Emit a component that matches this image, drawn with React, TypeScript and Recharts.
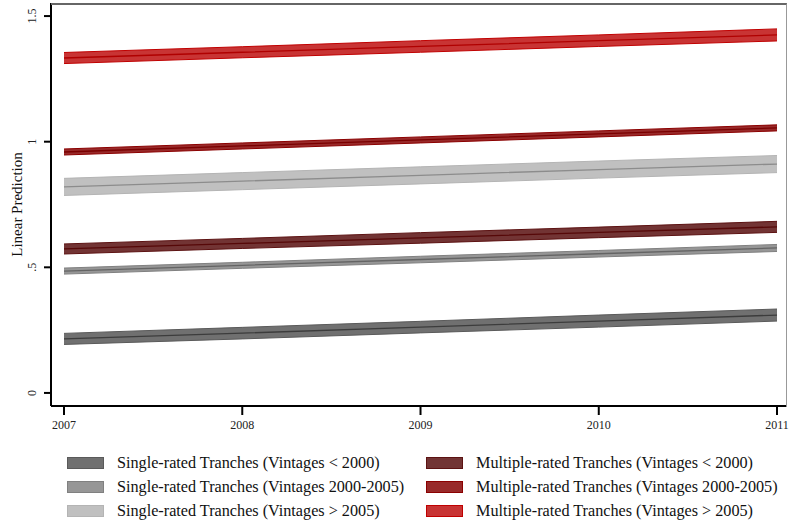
import {
  ComposedChart,
  Area,
  Line,
  XAxis,
  YAxis,
} from "recharts";

// x positions (years)
const years = [2007, 2008, 2009, 2010, 2011];
const xTicks = [2007, 2008, 2009, 2010, 2011];
const yTicks = [0, 0.5, 1, 1.5];

// single-rated tranches
const singleOldFit = [0.215, 0.238, 0.262, 0.286, 0.31];
const singleOldLo = [0.193, 0.215, 0.239, 0.262, 0.286];
const singleOldHi = [0.237, 0.261, 0.285, 0.31, 0.334];

const singleMidFit = [0.485, 0.508, 0.531, 0.554, 0.577];
const singleMidLo = [0.473, 0.496, 0.518, 0.541, 0.563];
const singleMidHi = [0.497, 0.52, 0.544, 0.567, 0.591];

const singleNewFit = [0.82, 0.843, 0.866, 0.889, 0.911];
const singleNewLo = [0.786, 0.809, 0.832, 0.855, 0.877];
const singleNewHi = [0.854, 0.877, 0.9, 0.923, 0.945];

// multiple-rated tranches
const multiOldFit = [0.573, 0.595, 0.617, 0.639, 0.661];
const multiOldLo = [0.553, 0.575, 0.596, 0.618, 0.639];
const multiOldHi = [0.593, 0.615, 0.638, 0.66, 0.683];

const multiMidFit = [0.959, 0.983, 1.007, 1.031, 1.055];
const multiMidLo = [0.947, 0.971, 0.995, 1.019, 1.043];
const multiMidHi = [0.971, 0.995, 1.019, 1.043, 1.067];

const multiNewFit = [1.333, 1.356, 1.379, 1.402, 1.425];
const multiNewLo = [1.311, 1.334, 1.356, 1.379, 1.401];
const multiNewHi = [1.355, 1.378, 1.402, 1.425, 1.449];

type SeriesDef = {
  key: string;
  name: string;
  fit: number[];
  lo: number[];
  hi: number[];
  fill: string;
  edge: string;
  line: string;
};

const SERIES: SeriesDef[] = [
  { key: "s1", name: "Single-rated Tranches (Vintages < 2000)", fit: singleOldFit, lo: singleOldLo, hi: singleOldHi, fill: "#707070", edge: "#5a5a5a", line: "#3c3c3c" },
  { key: "s2", name: "Single-rated Tranches (Vintages 2000-2005)", fit: singleMidFit, lo: singleMidLo, hi: singleMidHi, fill: "#969696", edge: "#808080", line: "#646464" },
  { key: "s3", name: "Single-rated Tranches (Vintages > 2005)", fit: singleNewFit, lo: singleNewLo, hi: singleNewHi, fill: "#c0c0c0", edge: "#b4b4b4", line: "#8c8c8c" },
  { key: "m1", name: "Multiple-rated Tranches (Vintages < 2000)", fit: multiOldFit, lo: multiOldLo, hi: multiOldHi, fill: "#723434", edge: "#5c1212", line: "#560808" },
  { key: "m2", name: "Multiple-rated Tranches (Vintages 2000-2005)", fit: multiMidFit, lo: multiMidLo, hi: multiMidHi, fill: "#982a2a", edge: "#8b0000", line: "#7a0000" },
  { key: "m3", name: "Multiple-rated Tranches (Vintages > 2005)", fit: multiNewFit, lo: multiNewLo, hi: multiNewHi, fill: "#c83434", edge: "#c00000", line: "#b00000" },
];

const FONT = "'Liberation Serif', 'DejaVu Serif', serif";

function fmtY(v: number): string {
  if (v === 0) return "0";
  if (v === 0.5) return ".5";
  return String(v);
}

function YTick(props: any) {
  const { y, payload } = props;
  const x = 32;
  return (
    <text
      x={x}
      y={y}
      transform={`rotate(-90, ${x}, ${y})`}
      textAnchor="middle"
      dominantBaseline="central"
      fontSize={12}
      fontFamily={FONT}
      fill="#222"
    >
      {fmtY(payload.value)}
    </text>
  );
}

function XTick(props: any) {
  const { x, payload } = props;
  return (
    <text x={x} y={429} textAnchor="middle" fontSize={12} fontFamily={FONT} fill="#222">
      {payload.value}
    </text>
  );
}

function YLabel(props: any) {
  const vb = props.viewBox ?? { x: 0, y: 3, height: 403 };
  const x = vb.x + 17;
  const y = vb.y + vb.height / 2;
  return (
    <text
      x={x}
      y={y}
      transform={`rotate(-90, ${x}, ${y})`}
      textAnchor="middle"
      dominantBaseline="central"
      fontSize={15}
      fontFamily={FONT}
      fill="#111"
    >
      Linear Prediction
    </text>
  );
}

function LegendBox() {
  const cols = [SERIES.slice(0, 3), SERIES.slice(3, 6)];
  const colX = [67, 426];
  return (
    <>
      {cols.map((col, ci) =>
        col.map((s, ri) => (
          <div
            key={s.key}
            style={{
              position: "absolute",
              left: colX[ci],
              top: 454 + ri * 24,
              height: 18,
              lineHeight: "18px",
              display: "flex",
              alignItems: "center",
              fontFamily: FONT,
              fontSize: 16.2,
              color: "#111",
              whiteSpace: "nowrap",
            }}
          >
            <span
              style={{
                display: "inline-block",
                width: 35,
                height: 10,
                background: s.fill,
                border: `1px solid ${s.edge}`,
                marginRight: 13,
              }}
            />
            {s.name}
          </div>
        ))
      )}
    </>
  );
}

export default function App() {
  const data = years.map((yr, i) => {
    const row: Record<string, number | number[]> = { year: yr };
    SERIES.forEach((s) => {
      row[`${s.key}_band`] = [s.lo[i], s.hi[i]];
      row[`${s.key}_fit`] = s.fit[i];
    });
    return row;
  });

  return (
    <div style={{ position: "absolute", left: 0, top: 0, width: 789, height: 526, background: "#fff" }}>
      <ComposedChart
        width={789}
        height={526}
        data={data}
        margin={{ top: 3, right: 2, bottom: 0, left: 0 }}
      >
        <XAxis
          dataKey="year"
          type="number"
          domain={[2006.927, 2011.056]}
          ticks={xTicks}
          allowDataOverflow
          height={120}
          axisLine={{ stroke: "#000", strokeWidth: 2 }}
          tickLine={{ stroke: "#000", strokeWidth: 2 }}
          tickSize={9}
          tick={<XTick />}
          interval={0}
        />
        <YAxis
          type="number"
          domain={[-0.052, 1.552]}
          ticks={yTicks}
          allowDataOverflow
          width={51}
          axisLine={{ stroke: "#000", strokeWidth: 2 }}
          tickLine={{ stroke: "#000", strokeWidth: 2 }}
          tickSize={7}
          tick={<YTick />}
          interval={0}
          label={<YLabel />}
        />
        {SERIES.map((s) => (
          <Area
            key={`${s.key}_band`}
            type="linear"
            dataKey={`${s.key}_band`}
            fill={s.fill}
            fillOpacity={1}
            stroke={s.edge}
            strokeWidth={1}
            isAnimationActive={false}
            activeDot={false}
            dot={false}
          />
        ))}
        {SERIES.map((s) => (
          <Line
            key={`${s.key}_fit`}
            type="linear"
            dataKey={`${s.key}_fit`}
            stroke={s.line}
            strokeWidth={1.3}
            dot={false}
            activeDot={false}
            isAnimationActive={false}
          />
        ))}
      </ComposedChart>
      {/* plot region frame */}
      <div
        style={{
          position: "absolute",
          left: 51,
          top: 3,
          width: 735,
          height: 402,
          borderTop: "2px solid #666",
          borderRight: "1px solid #999",
          pointerEvents: "none",
        }}
      />
      <LegendBox />
    </div>
  );
}
